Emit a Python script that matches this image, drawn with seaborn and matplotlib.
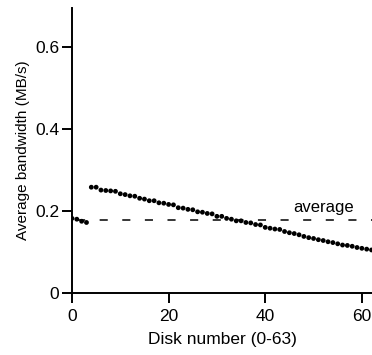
import numpy as np
import pandas as pd
import matplotlib
matplotlib.use("Agg")
import matplotlib.pyplot as plt
import seaborn as sns

# Per-disk average bandwidth (MB/s) for the 64-disk array
disk = list(range(64))
bandwidth = [
    0.182, 0.180, 0.175, 0.172,
    0.258, 0.258, 0.251, 0.250, 0.249, 0.248, 0.242, 0.240, 0.237, 0.236,
    0.231, 0.229, 0.225, 0.225, 0.220, 0.219, 0.216, 0.215, 0.208, 0.207,
    0.204, 0.203, 0.198, 0.197, 0.194, 0.193, 0.187, 0.187, 0.182, 0.180,
    0.176, 0.176, 0.172, 0.171, 0.167, 0.166, 0.160, 0.158, 0.156, 0.155,
    0.150, 0.147, 0.145, 0.142, 0.138, 0.135, 0.133, 0.130, 0.128, 0.125,
    0.123, 0.120, 0.117, 0.116, 0.114, 0.111, 0.109, 0.107, 0.105, 0.103,
]
x_ticks = [0, 20, 40, 60]
y_ticks = [0, 0.2, 0.4, 0.6]
y_tick_labels = ["0", "0.2", "0.4", "0.6"]

df = pd.DataFrame({"disk": disk, "bandwidth": bandwidth})
mean_bw = float(np.mean(bandwidth))

sns.set_style("ticks")
plt.rcParams["font.family"] = ["Liberation Sans", "DejaVu Sans"]
plt.rcParams["text.color"] = "black"
plt.rcParams["axes.labelcolor"] = "black"

fig = plt.figure(figsize=(3.72, 3.55), dpi=100)
ax = fig.add_axes([0.1935, 0.1746, 0.8065, 0.8029])

sns.scatterplot(data=df, x="disk", y="bandwidth", ax=ax, color="black",
                s=12, linewidth=0, edgecolor="none", clip_on=True, zorder=3)

ax.axhline(mean_bw, color="black", lw=1.1,
           linestyle=(11.5, (5.3, 9.5)), zorder=2)
ax.text(45.9, 0.197, "average", fontsize=12, color="black",
        ha="left", va="baseline")

ax.set_xlim(0, 62.1)
ax.set_ylim(0, 0.695)
ax.set_xticks(x_ticks)
ax.set_yticks(y_ticks)
ax.set_yticklabels(y_tick_labels)

for side in ("top", "right"):
    ax.spines[side].set_visible(False)
for side in ("left", "bottom"):
    ax.spines[side].set_linewidth(1.4)
    ax.spines[side].set_color("black")

ax.tick_params(axis="both", which="major", direction="out", length=7.5,
               width=1.4, color="black", labelsize=12.5, pad=1.5,
               labelcolor="black", bottom=True, left=True)
ax.tick_params(axis="x", pad=4)

ax.set_xlabel("Disk number (0-63)", fontsize=12.5, labelpad=6)
ax.set_ylabel("Average bandwidth (MB/s)", fontsize=11, labelpad=4)

fig.savefig("out.png", dpi=100, facecolor="white")
